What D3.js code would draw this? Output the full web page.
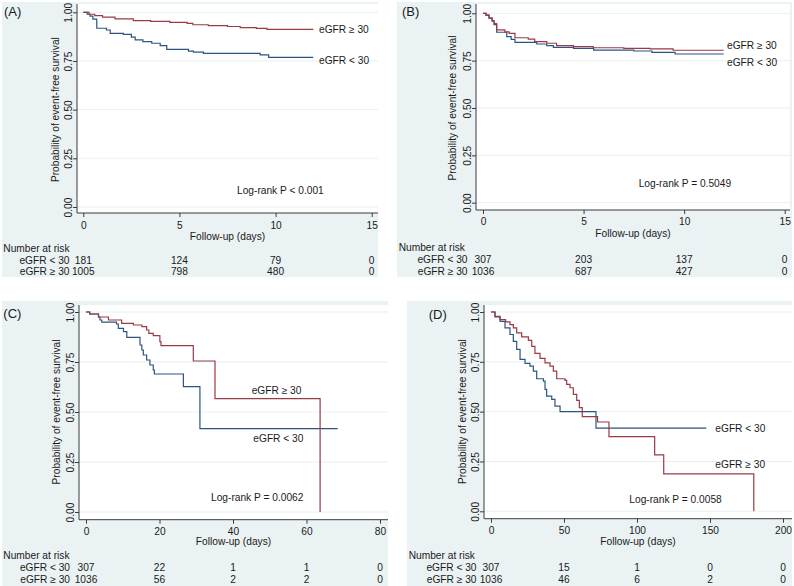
<!DOCTYPE html>
<html>
<head>
<meta charset="utf-8">
<script src="https://cdn.jsdelivr.net/npm/d3@7"></script>
<style>
body { margin: 0; background: #fff; }
text { font-family: "Liberation Sans", Arial, sans-serif; }
</style>
</head>
<body>
<div id="chart"></div>
<script>
// ---- data ----
const groupLabels = ["eGFR < 30", "eGFR \u2265 30"];
const yTicks = [0, 0.25, 0.5, 0.75, 1];

// panel A
const aTicks = [0, 5, 10, 15];
const aLtTime = [0, 0.2, 0.35, 0.5, 0.7, 1.2, 1.4, 2.08, 2.5, 2.7, 3.1, 3.56, 4.0, 4.34, 5.47, 5.73, 6.25, 9.2, 9.64, 11.96];
const aLtSurv = [1, 0.99, 0.98, 0.965, 0.918, 0.909, 0.892, 0.887, 0.872, 0.858, 0.849, 0.841, 0.829, 0.81, 0.801, 0.795, 0.789, 0.781, 0.769, 0.769];
const aGeTime = [0, 0.3, 0.6, 1.0, 1.65, 2.6, 3.5, 4.5, 5.4, 5.7, 6.5, 7.5, 8.16, 9.0, 9.55, 11.96];
const aGeSurv = [1, 0.99, 0.983, 0.975, 0.966, 0.957, 0.953, 0.948, 0.943, 0.936, 0.932, 0.927, 0.921, 0.917, 0.912, 0.912];
const aRiskLt = [181, 124, 79, 0];
const aRiskGe = [1005, 798, 480, 0];
const aP = "Log-rank P < 0.001";

// panel B
const bTicks = [0, 5, 10, 15];
const bLtTime = [0, 0.15, 0.3, 0.45, 0.55, 0.68, 1.18, 1.4, 1.59, 2.67, 3.17, 3.5, 4.5, 5.5, 7.5, 8.4, 9.55, 11.97];
const bLtSurv = [1, 0.99, 0.975, 0.96, 0.94, 0.90, 0.877, 0.862, 0.847, 0.838, 0.829, 0.82, 0.815, 0.806, 0.801, 0.794, 0.785, 0.785];
const bGeTime = [0, 0.15, 0.3, 0.45, 0.55, 0.68, 1.09, 1.3, 1.59, 2.25, 2.57, 3.17, 3.66, 4.5, 5.48, 7.0, 8.3, 9.45, 11.97];
const bGeSurv = [1, 0.99, 0.975, 0.96, 0.945, 0.912, 0.902, 0.894, 0.871, 0.864, 0.85, 0.842, 0.829, 0.824, 0.818, 0.815, 0.812, 0.805, 0.805];
const bRiskLt = [307, 203, 137, 0];
const bRiskGe = [1036, 687, 427, 0];
const bP = "Log-rank P = 0.5049";

// panel C
const cTicks = [0, 20, 40, 60, 80];
const cLtTime = [0, 1, 3.4, 3.8, 4.3, 8.3, 8.8, 10.2, 11.1, 14.7, 15.2, 15.6, 16.5, 17.4, 18.3, 18.6, 26.5, 31, 68.5];
const cLtSurv = [1, 0.99, 0.975, 0.96, 0.949, 0.94, 0.918, 0.902, 0.873, 0.835, 0.81, 0.785, 0.76, 0.735, 0.71, 0.69, 0.627, 0.417, 0.417];
const cGeTime = [0, 1, 3.4, 6.1, 9.7, 12.9, 15.2, 16.5, 17.1, 18.3, 20.1, 20.4, 29.2, 35.1, 63.7];
const cGeSurv = [1, 0.99, 0.975, 0.96, 0.943, 0.935, 0.927, 0.91, 0.893, 0.882, 0.852, 0.832, 0.755, 0.567, 0];
const cRiskLt = [307, 22, 1, 1, 0];
const cRiskGe = [1036, 56, 2, 2, 0];
const cP = "Log-rank P = 0.0062";

// panel D
const dTicks = [0, 50, 100, 150, 200];
const dLtTime = [0, 2.7, 6.2, 9.6, 13.0, 15.3, 17.6, 19.9, 23.3, 26.7, 29.0, 31.3, 35.9, 37.0, 38.1, 41.6, 43.8, 47.3, 71.9, 147.5];
const dLtSurv = [1, 0.975, 0.953, 0.92, 0.887, 0.853, 0.812, 0.762, 0.742, 0.728, 0.703, 0.665, 0.653, 0.612, 0.578, 0.562, 0.528, 0.5, 0.417, 0.417];
const dGeTime = [0, 2.7, 6.2, 10, 13.0, 15.3, 17.6, 21.0, 25.6, 27.9, 30.1, 33.6, 37.0, 40.4, 42.7, 45.0, 50.7, 51.8, 54.1, 56.4, 58.7, 60.5, 62.5, 73, 80.8, 112.1, 118.3, 180];
const dGeSurv = [1, 0.978, 0.962, 0.95, 0.937, 0.92, 0.895, 0.875, 0.858, 0.828, 0.792, 0.767, 0.745, 0.728, 0.703, 0.665, 0.657, 0.637, 0.62, 0.587, 0.557, 0.52, 0.475, 0.448, 0.375, 0.283, 0.188, 0];
const dRiskLt = [307, 15, 1, 0, 0];
const dRiskGe = [1036, 46, 6, 2, 0];
const dP = "Log-rank P = 0.0058";

// ---- look ----
const BG = "#eaf2f3";
const GRID = "#e9eff0";
const AXIS = "#3a3a3a";
const INK = "#1a1a1a";
const RED = "#9a3a44";
const BLUE = "#2b5580";
const FS = 10.2;

const svg = d3.select("#chart")
    .append("svg")
    .attr("width", 794)
    .attr("height", 586);

// layout of each panel (pixels)
const panels = [
    { letter: "(A)", ticks: aTicks, lt: [aLtTime, aLtSurv], ge: [aGeTime, aGeSurv], risk: [aRiskLt, aRiskGe], p: aP,
      bg: [2, 2, 378, 277], plot: [77, 4, 378, 213], xr: [83.3, 371.7], yr: [207, 12.3],
      xLabY: 225.5, xTitleY: 236, narX: 3.3, narY: 248.3, rows: [260, 271.7], rowLabX: 69.5, yTitleX: 55,
      letterPos: [4, 11.7], geLab: [319, 29.3], ltLab: [319, 60], pPos: [237, 190.7] },
    { letter: "(B)", ticks: bTicks, lt: [bLtTime, bLtSurv], ge: [bGeTime, bGeSurv], risk: [bRiskLt, bRiskGe], p: bP,
      bg: [397, 2, 792, 277], plot: [476, 4, 790, 210], xr: [483, 784.7], yr: [202.7, 13.3],
      xLabY: 221.7, xTitleY: 233.3, narX: 398.7, narY: 247.3, rows: [259, 271], rowLabX: 467.5, yTitleX: 452,
      letterPos: [402, 11], geLab: [727, 45], ltLab: [727, 62.3], pPos: [638.7, 183.3] },
    { letter: "(C)", ticks: cTicks, lt: [cLtTime, cLtSurv], ge: [cGeTime, cGeSurv], risk: [cRiskLt, cRiskGe], p: cP,
      bg: [2, 301, 388, 586], plot: [79, 305, 388, 519.7], xr: [86, 380], yr: [512, 312],
      xLabY: 531.5, xTitleY: 541.8, narX: 3.3, narY: 555.3, rows: [567.3, 579], rowLabX: 70, yTitleX: 56.7,
      letterPos: [3.3, 313], geLab: [251.7, 390.7], ltLab: [253.3, 438.7], pPos: [211, 497] },
    { letter: "(D)", ticks: dTicks, lt: [dLtTime, dLtSurv], ge: [dGeTime, dGeSurv], risk: [dRiskLt, dRiskGe], p: dP,
      bg: [407, 301, 792, 586], plot: [484, 305, 792, 518.7], xr: [491, 783], yr: [511.3, 312],
      xLabY: 530.5, xTitleY: 541.8, narX: 408.7, narY: 555.3, rows: [567.3, 579], rowLabX: 476.5, yTitleX: 462,
      letterPos: [428.7, 314.7], geLab: [715.3, 464.7], ltLab: [715.3, 428], pPos: [629.3, 499.7] }
];

function label(g, txt, x, y, anchor, size) {
    return g.append("text")
        .attr("x", x)
        .attr("y", y)
        .attr("dy", "0.36em")
        .attr("text-anchor", anchor || "start")
        .attr("font-size", size || FS)
        .attr("fill", INK)
        .text(txt);
}

function drawPanel(p) {
    const g = svg.append("g");

    g.append("rect")
        .attr("x", p.bg[0]).attr("y", p.bg[1])
        .attr("width", p.bg[2] - p.bg[0]).attr("height", p.bg[3] - p.bg[1])
        .attr("fill", BG);
    g.append("rect")
        .attr("x", p.plot[0]).attr("y", p.plot[1])
        .attr("width", p.plot[2] - p.plot[0]).attr("height", p.plot[3] - p.plot[1])
        .attr("fill", "#fff");

    const xScale = d3.scaleLinear()
        .domain([p.ticks[0], p.ticks[p.ticks.length - 1]])
        .range(p.xr);
    const yScale = d3.scaleLinear()
        .domain([0, 1])
        .range(p.yr);

    // gridlines
    g.selectAll(".grid")
        .data(yTicks)
        .join("line")
        .attr("x1", p.plot[0]).attr("x2", p.plot[2])
        .attr("y1", d => yScale(d)).attr("y2", d => yScale(d))
        .attr("stroke", GRID)
        .attr("stroke-width", 1);

    // y axis
    const ya = g.append("g")
        .attr("transform", `translate(${p.plot[0]},0)`)
        .call(d3.axisLeft(yScale).tickValues(yTicks).tickFormat(d3.format(".2f")).tickSize(4));
    ya.select(".domain").remove();
    ya.selectAll("line").attr("stroke", AXIS);
    ya.selectAll("text")
        .attr("x", 0).attr("y", -5).attr("dy", 0)
        .attr("transform", "rotate(-90)")
        .attr("text-anchor", "middle")
        .attr("font-size", FS)
        .attr("font-family", "Liberation Sans, Arial, sans-serif")
        .attr("fill", INK);

    // x axis
    const xa = g.append("g")
        .attr("transform", `translate(0,${p.plot[3]})`)
        .call(d3.axisBottom(xScale).tickValues(p.ticks).tickSize(4));
    xa.select(".domain").remove();
    xa.selectAll("line").attr("stroke", AXIS);
    xa.selectAll("text")
        .attr("y", p.xLabY - p.plot[3]).attr("dy", "0.36em")
        .attr("font-size", FS)
        .attr("font-family", "Liberation Sans, Arial, sans-serif")
        .attr("fill", INK);

    // axis lines
    g.append("line")
        .attr("x1", p.plot[0]).attr("x2", p.plot[0])
        .attr("y1", p.plot[1]).attr("y2", p.plot[3])
        .attr("stroke", AXIS).attr("stroke-width", 1);
    g.append("line")
        .attr("x1", p.plot[0]).attr("x2", p.plot[2])
        .attr("y1", p.plot[3]).attr("y2", p.plot[3])
        .attr("stroke", AXIS).attr("stroke-width", 1);

    // survival curves
    const km = d3.line()
        .x(d => xScale(d[0]))
        .y(d => yScale(d[1]))
        .curve(d3.curveStepAfter);

    g.append("path")
        .datum(d3.zip(p.lt[0], p.lt[1]))
        .attr("fill", "none")
        .attr("stroke", BLUE)
        .attr("stroke-width", 1.2)
        .attr("d", km);
    g.append("path")
        .datum(d3.zip(p.ge[0], p.ge[1]))
        .attr("fill", "none")
        .attr("stroke", RED)
        .attr("stroke-width", 1.2)
        .attr("d", km);

    // titles and annotations
    label(g, "Follow-up (days)", (p.plot[0] + p.plot[2]) / 2, p.xTitleY, "middle");
    g.append("text")
        .attr("transform", `translate(${p.yTitleX},${(p.yr[0] + p.yr[1]) / 2}) rotate(-90)`)
        .attr("dy", "0.36em")
        .attr("text-anchor", "middle")
        .attr("font-size", FS)
        .attr("fill", INK)
        .text("Probability of event-free survival");
    label(g, p.letter, p.letterPos[0], p.letterPos[1], "start", 13);
    label(g, groupLabels[1], p.geLab[0], p.geLab[1]);
    label(g, groupLabels[0], p.ltLab[0], p.ltLab[1]);
    label(g, p.p, p.pPos[0], p.pPos[1]);

    // number at risk table
    label(g, "Number at risk", p.narX, p.narY);
    p.risk.forEach((row, i) => {
        label(g, groupLabels[i], p.rowLabX, p.rows[i], "end");
        row.forEach((n, j) => {
            label(g, n, xScale(p.ticks[j]), p.rows[i], "middle");
        });
    });
}

panels.forEach(drawPanel);
</script>
</body>
</html>
